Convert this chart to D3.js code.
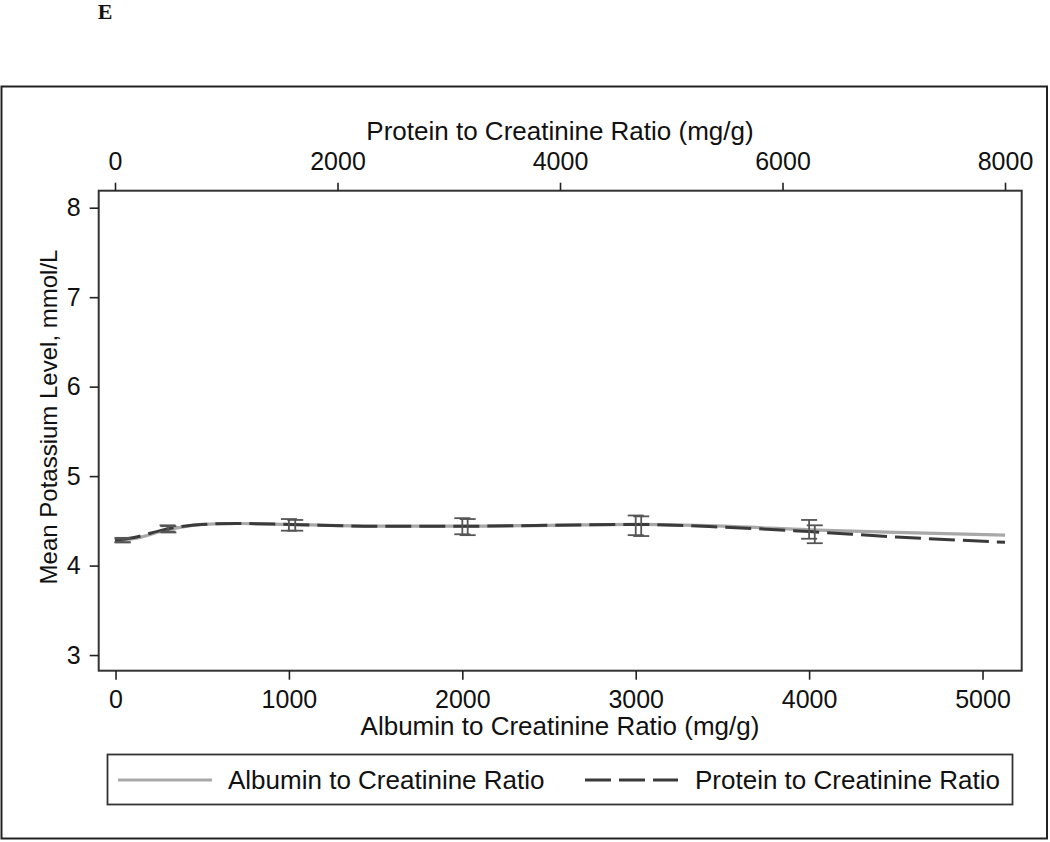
<!DOCTYPE html>
<html>
<head>
<meta charset="utf-8" />
<title>Mean potassium by ACR / PCR</title>
<script src="https://d3js.org/d3.v7.min.js"></script>
<style>
body { margin: 0; background: #fff; }
text { font-family: "Liberation Sans", Arial, Helvetica, sans-serif; fill: #111; }
.axis line { stroke: #222; }
</style>
</head>
<body>
<div id="viz"></div>
<script>
// albumin to creatinine ratio (bottom axis), mg/g
var acrX = [0, 100, 300, 500, 700, 1000, 1500, 2000, 2500, 3000, 3500, 4000, 4500, 5130];
var acrY = [4.28, 4.30, 4.40, 4.46, 4.47, 4.46, 4.44, 4.44, 4.45, 4.46, 4.44, 4.40, 4.37, 4.34];
// protein to creatinine ratio (top axis), mg/g
var pcrX = [0, 160, 470, 780, 1100, 1560, 2340, 3120, 3900, 4680, 5460, 6240, 7020, 8000];
var pcrY = [4.28, 4.31, 4.41, 4.46, 4.47, 4.46, 4.44, 4.44, 4.45, 4.46, 4.43, 4.38, 4.32, 4.26];

// error bars (95% CI)
var acrErrX  = [40, 300, 1000, 2000, 3000, 4000];
var acrErrLo = [4.26, 4.38, 4.39, 4.35, 4.34, 4.30];
var acrErrHi = [4.31, 4.45, 4.52, 4.53, 4.56, 4.51];
var pcrErrX  = [70, 480, 1620, 3170, 4730, 6290];
var pcrErrLo = [4.26, 4.37, 4.39, 4.34, 4.33, 4.25];
var pcrErrHi = [4.30, 4.44, 4.51, 4.52, 4.55, 4.45];

var yTicks = [3, 4, 5, 6, 7, 8];
var acrTicks = [0, 1000, 2000, 3000, 4000, 5000];
var pcrTicks = [0, 2000, 4000, 6000, 8000];
var seriesNames = ["Albumin to Creatinine Ratio", "Protein to Creatinine Ratio"];

var W = 1050, H = 842;
// plot region (named to avoid window.top)
var pL = 98.7, pR = 1021.7, pT = 190.7, pB = 670.7;

var svg = d3.select("#viz").append("svg")
    .attr("width", W)
    .attr("height", H);

// panel letter
svg.append("text")
    .attr("x", 105).attr("y", 19)
    .attr("text-anchor", "middle")
    .style("font-family", "'Liberation Serif', 'Times New Roman', serif")
    .style("font-weight", "bold")
    .style("font-size", "22px")
    .text("E");

// outer frame
svg.append("rect")
    .attr("x", 1.5).attr("y", 86.5)
    .attr("width", 1045.5).attr("height", 752)
    .attr("fill", "none")
    .attr("stroke", "#222")
    .attr("stroke-width", 2);

var y = d3.scaleLinear().domain([2.825, 8.19]).range([pB, pT]);
var xA = d3.scaleLinear().domain([-97, 5226]).range([pL, pR]);
var xP = d3.scaleLinear().domain([-146.5, 8150]).range([pL, pR]);

// plot region box
svg.append("rect")
    .attr("x", pL).attr("y", pT)
    .attr("width", pR - pL).attr("height", pB - pT)
    .attr("fill", "none")
    .attr("stroke", "#333")
    .attr("stroke-width", 2);

var tickFs = "25px";

var gy = svg.append("g")
    .attr("class", "axis")
    .attr("transform", "translate(" + pL + ",0)")
    .call(d3.axisLeft(y).tickValues(yTicks).tickSize(9).tickPadding(9).tickFormat(d3.format("d")));
var gb = svg.append("g")
    .attr("class", "axis")
    .attr("transform", "translate(0," + pB + ")")
    .call(d3.axisBottom(xA).tickValues(acrTicks).tickSize(9).tickPadding(11).tickFormat(d3.format("d")));
var gt = svg.append("g")
    .attr("class", "axis")
    .attr("transform", "translate(0," + pT + ")")
    .call(d3.axisTop(xP).tickValues(pcrTicks).tickSize(8).tickPadding(13).tickFormat(d3.format("d")));

[gy, gb, gt].forEach(function(g) {
  g.select(".domain").remove();
  g.selectAll("line").attr("stroke-width", 1.6);
  g.selectAll("text").style("font-size", tickFs).style("font-family", "'Liberation Sans', Arial, sans-serif").attr("fill", "#111");
});

// axis titles
svg.append("text")
    .attr("x", 560).attr("y", 140)
    .attr("text-anchor", "middle")
    .style("font-size", "26px")
    .text("Protein to Creatinine Ratio (mg/g)");
svg.append("text")
    .attr("x", 560).attr("y", 735)
    .attr("text-anchor", "middle")
    .style("font-size", "26px")
    .text("Albumin to Creatinine Ratio (mg/g)");
svg.append("text")
    .attr("transform", "translate(57,417) rotate(-90)")
    .attr("text-anchor", "middle")
    .style("font-size", "24px")
    .text("Mean Potassium Level, mmol/L");

// lines
var acr = acrX.map(function(d, i) { return [d, acrY[i]]; });
var pcr = pcrX.map(function(d, i) { return [d, pcrY[i]]; });

var lineA = d3.line().curve(d3.curveMonotoneX)
    .x(function(d) { return xA(d[0]); }).y(function(d) { return y(d[1]); });
var lineP = d3.line().curve(d3.curveMonotoneX)
    .x(function(d) { return xP(d[0]); }).y(function(d) { return y(d[1]); });

svg.append("path").datum(acr)
    .attr("d", lineA)
    .attr("fill", "none")
    .attr("stroke", "#a8a8a8")
    .attr("stroke-width", 3.2);
svg.append("path").datum(pcr)
    .attr("d", lineP)
    .attr("fill", "none")
    .attr("stroke", "#3a3a3a")
    .attr("stroke-width", 3)
    .attr("stroke-dasharray", "26,8");

// error bars
function errBars(xs, lo, hi, sx, col) {
  var g = svg.append("g").attr("stroke", col).attr("stroke-width", 1.8).attr("fill", "none");
  xs.forEach(function(v, i) {
    var cx = sx(v), y0 = y(lo[i]), y1 = y(hi[i]), w = 8;
    g.append("line").attr("x1", cx).attr("x2", cx).attr("y1", y0).attr("y2", y1);
    g.append("line").attr("x1", cx - w).attr("x2", cx + w).attr("y1", y0).attr("y2", y0);
    g.append("line").attr("x1", cx - w).attr("x2", cx + w).attr("y1", y1).attr("y2", y1);
  });
}
errBars(acrErrX, acrErrLo, acrErrHi, xA, "#555");
errBars(pcrErrX, pcrErrLo, pcrErrHi, xP, "#555");

// legend
var lg = svg.append("g");
lg.append("rect")
    .attr("x", 107.5).attr("y", 754.5)
    .attr("width", 905).attr("height", 50)
    .attr("fill", "#fff")
    .attr("stroke", "#333")
    .attr("stroke-width", 1.8);
lg.append("line")
    .attr("x1", 118).attr("x2", 212).attr("y1", 780).attr("y2", 780)
    .attr("stroke", "#a8a8a8").attr("stroke-width", 3.2);
lg.append("text")
    .attr("x", 228).attr("y", 789)
    .style("font-size", "26px")
    .text(seriesNames[0]);
lg.append("line")
    .attr("x1", 585).attr("x2", 678).attr("y1", 780).attr("y2", 780)
    .attr("stroke", "#3a3a3a").attr("stroke-width", 3)
    .attr("stroke-dasharray", "26,8");
lg.append("text")
    .attr("x", 695).attr("y", 789)
    .style("font-size", "26px")
    .text(seriesNames[1]);
</script>
</body>
</html>
